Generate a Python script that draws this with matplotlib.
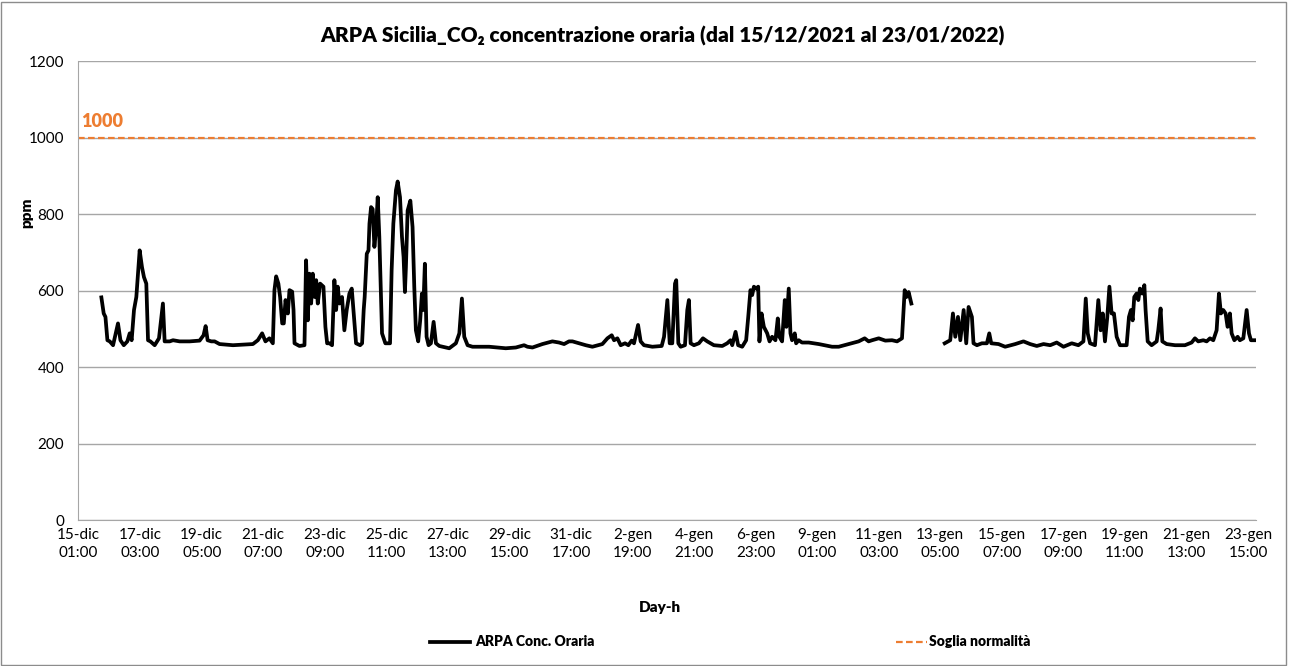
import numpy as np
import matplotlib
matplotlib.use("Agg")
import matplotlib.pyplot as plt
from matplotlib.patches import Rectangle
from matplotlib.lines import Line2D

plt.rcParams['font.family'] = ['Lato', 'DejaVu Sans']

# hour index (0 = 15-dic 01:00) and hourly CO2 readings (ppm)
hours_a = [18.5, 20.4, 21.8, 23.4, 25.3, 28, 32, 34, 36.7, 39.6, 41.5, 43.1, 45, 46.9,
           49.6, 51.5, 53.1, 55, 56.4, 58.3, 61.8, 65.3, 68.5, 69.9, 74, 76.7, 82.1,
           90.2, 98.3, 101.5, 103.2, 104.8, 107.8, 110.5, 114.5, 125.4, 141.6, 145.6,
           149.1, 151.8, 155, 157.8, 159.1, 160.5, 162.3, 163.7, 165.4, 166.7, 168.1,
           170, 171.3, 173.5, 174.6, 175.4, 179.4, 183.5, 184.8, 186.2, 187.5, 188.9,
           190.2, 191.8, 193, 194.3, 196.2, 198.9, 200.5, 201.9, 203.8, 205.9, 207.8,
           209.2, 210.5, 211.9, 214, 215.9, 217.8, 220, 221.9, 223.5, 225.4, 228.7,
           230.3, 231.6, 232.4, 234.1, 235.5, 236.3, 237.6, 238.9, 240.3, 241.6, 243,
           244.3, 245.7, 246.5, 249.2, 253, 254.3, 255.7, 257.8, 259.2, 261.1, 262.7,
           264, 265.1, 265.9, 267.3, 269.5, 271.3, 272.7, 274, 275.9, 277.5, 278.9,
           280, 281.3, 282.7, 284.3, 286.2, 288.4, 290.3, 293, 301.1, 306.5, 309.3,
           311.4, 313.3, 316, 320, 333.5, 347, 355.2, 361.9, 364.6, 368.7, 376.8,
           384.9, 390.3, 394.4, 398.4, 401.2, 412, 417.4, 425.5, 429.6, 433.1, 435,
           437.7, 440.4, 443.9, 446.6, 449.3, 451.2, 454.5, 456.6, 459.3, 466.1,
           473.7, 475.6, 478.3, 480.2, 482.3, 484.5, 485.5, 487.2, 489.1, 492.6,
           494.5, 495.8, 497.2, 499.9, 503.9, 507.2, 510.7, 516.1, 522.9, 526.9,
           529.6, 531, 533.7, 535.8, 539.1, 542.3, 544, 545.8, 547.2, 548.6, 550.4,
           552.1, 553.1, 554.8, 556.7, 559.4, 561.3, 563.4, 566.1, 568, 569.3, 571.5,
           573.7, 575, 576.9, 578.3, 579.6, 581.8, 582.9, 585, 587.7, 593.1, 601.3,
           612.1, 617.5, 625.6, 633.7, 638.6, 641.8, 644.6, 650, 655.4, 660.8, 664.9,
           668.9, 671.1, 672.5, 674.3, 676.5]
ppm_a = [582, 540, 531, 470, 467, 457, 514, 470, 457, 467, 488, 470, 549, 583,
         705, 661, 635, 618, 470, 467, 457, 475, 566, 467, 467, 470, 467,
         467, 469, 483, 507, 470, 467, 467, 460, 457, 460, 470,
         488, 467, 475, 462, 601, 637, 618, 583, 514, 514, 575,
         540, 601, 597, 549, 462, 455, 457, 679, 522, 644, 566,
         644, 583, 627, 566, 618, 610, 505, 462, 462, 457, 627,
         549, 610, 566, 583, 496, 549, 592, 605, 540, 462, 457,
         462, 549, 583, 696, 705, 775, 818, 813, 714, 757, 844,
         740, 583, 488, 462, 462, 653, 775, 862, 885, 844, 740,
         688, 596, 661, 809, 835, 766, 609, 496, 467, 522, 592,
         549, 670, 479, 457, 462, 518, 462, 455, 449, 462, 488,
         579, 479, 457, 453, 453, 449, 451, 457, 453, 451, 460,
         467, 464, 460, 467, 467, 457, 453, 460, 475, 483, 470,
         475, 457, 462, 457, 469, 462, 510, 467, 457, 453,
         455, 479, 575, 462, 462, 618, 627, 462, 453, 457,
         549, 575, 462, 457, 462, 475, 467, 457, 455, 462,
         470, 457, 492, 457, 453, 470, 531, 601, 588, 610, 605,
         610, 467, 540, 505, 488, 467, 479, 470, 527, 479, 467,
         575, 505, 605, 488, 470, 488, 462, 470, 464, 464, 460,
         453, 453, 460, 467, 475, 467, 470, 475, 469, 470, 467,
         475, 601, 583, 596, 566]
hours_b = [703.6, 708.1, 710.3, 712.2, 714.4, 716.3, 719, 721.1, 723, 725.7, 727,
           729.8, 733.8, 737.9, 739.8, 741.4, 747.3, 752.7, 760.9, 767.6, 773,
           778.4, 783.9, 789.3, 794.6, 800.1, 806.8, 812.2, 816.3, 818.2, 819.8,
           821.7, 825.7, 828.4, 830.3, 832, 833.8, 835.7, 837.4, 839.2, 841.1,
           843.3, 846, 851.4, 853.3, 854.9, 856.3, 857.6, 859.5, 860.9, 862.2,
           864.1, 865.8, 866.8, 868.5, 871.7, 875.8, 877.1, 879, 880.4, 883.9,
           890.7, 898.8, 904.2, 906.9, 909.6, 913.7, 916.4, 919.1, 921.8, 924.5,
           926.4, 928, 929.9, 931.8, 933.4, 935.3, 936.7, 938.9, 941.6, 943.4,
           946.2, 948.9, 950.8, 952.4, 955.1]
ppm_b = [462, 470, 540, 479, 531, 470, 549, 462, 557, 531, 462,
         457, 462, 462, 488, 462, 460, 453, 460, 467, 460,
         455, 460, 457, 464, 453, 462, 457, 467, 579, 488,
         462, 457, 575, 496, 540, 467, 531, 610, 540, 540,
         479, 457, 457, 531, 549, 522, 583, 592, 575, 605,
         592, 614, 549, 467, 457, 467, 496, 553, 467, 460,
         457, 457, 464, 475, 467, 470, 467, 475, 470, 496,
         592, 540, 549, 540, 505, 540, 488, 470, 479, 470,
         475, 549, 488, 470, 470]

n_hours = 957
tick_pos = list(range(0, 951, 50))
tick_labels = ['15-dic\n01:00', '17-dic\n03:00', '19-dic\n05:00', '21-dic\n07:00',
               '23-dic\n09:00', '25-dic\n11:00', '27-dic\n13:00', '29-dic\n15:00',
               '31-dic\n17:00', '2-gen\n19:00', '4-gen\n21:00', '6-gen\n23:00',
               '9-gen\n01:00', '11-gen\n03:00', '13-gen\n05:00', '15-gen\n07:00',
               '17-gen\n09:00', '19-gen\n11:00', '21-gen\n13:00', '23-gen\n15:00']
soglia = 1000

orange = '#ED7D31'
heavy = 'heavy'

fig = plt.figure(figsize=(12.89, 6.66), dpi=100)
ax = fig.add_axes([0.0605, 0.2192, 0.9139, 0.6892])

# gap in the record around 12-gen
x = np.array(hours_a + [690] + hours_b)
y = np.array(ppm_a + [np.nan] + ppm_b)
ax.plot(x, y, color='black', lw=2.7, solid_joinstyle='round')
ax.axhline(soglia, color=orange, lw=1.6, ls=(0, (3, 1.5)))
ax.text(2, soglia + 20, '1000', color=orange, fontsize=13, fontweight=heavy,
        ha='left', va='bottom')

ax.set_xlim(-0.5, n_hours - 0.5)
ax.set_ylim(0, 1200)
ax.set_yticks(range(0, 1201, 200))
ax.set_xticks(tick_pos)
ax.set_xticklabels(tick_labels, fontsize=11, linespacing=1.35)
ax.tick_params(axis='y', labelsize=11, length=0, pad=10)
ax.tick_params(axis='x', length=0, pad=6)
ax.grid(axis='y', color='#A6A6A6', lw=1)
ax.set_axisbelow(True)
for s in ['top', 'right']:
    ax.spines[s].set_visible(False)
ax.spines['left'].set_color('#A6A6A6')
ax.spines['bottom'].set_color('#A6A6A6')

fig.text(662 / 1289, 1 - 36 / 666, 'ARPA Sicilia_CO\u2082 concentrazione oraria (dal 15/12/2021 al 23/01/2022)',
         ha='center', va='center', fontsize=15, fontweight=heavy)
fig.text(27 / 1289, 1 - 213 / 666, 'ppm', rotation=90, ha='center', va='center',
         fontsize=11, fontweight=heavy)
fig.text(660 / 1289, 1 - 608 / 666, 'Day-h', ha='center', va='center',
         fontsize=11, fontweight=heavy)

leg_font = {'weight': heavy, 'size': 10}
leg1 = fig.legend([Line2D([], [], color='black', lw=2.7)], ['ARPA Conc. Oraria'],
                  loc='center left', bbox_to_anchor=(430 / 1289, 1 - 642 / 666),
                  frameon=False, prop=leg_font, handlelength=2.9, handletextpad=0.35,
                  borderpad=0, borderaxespad=0)
leg2 = fig.legend([Line2D([], [], color=orange, lw=1.6, ls=(0, (3, 1.5)))],
                  ['Soglia normalità'], loc='center left',
                  bbox_to_anchor=(896 / 1289, 1 - 642 / 666), frameon=False,
                  prop=leg_font, handlelength=2.2, handletextpad=0.2,
                  borderpad=0, borderaxespad=0)

fig.patches.append(Rectangle((0.001, 0.0015), 0.997, 0.996, transform=fig.transFigure,
                             fill=False, edgecolor='#8C8C8C', lw=1))

fig.savefig('out.png', dpi=100)
